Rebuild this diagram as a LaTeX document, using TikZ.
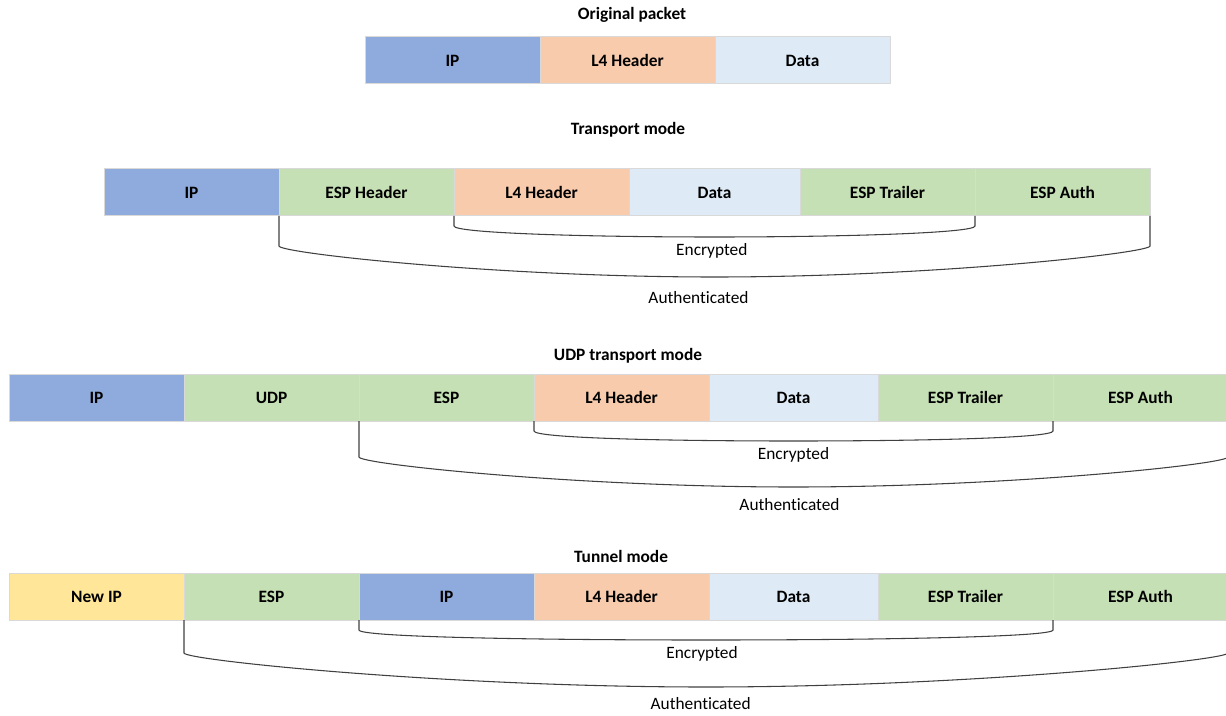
\documentclass[tikz,border=0pt]{standalone}
\usepackage{fontspec}
\setmainfont{Carlito}[Ligatures=NoCommon]
\usetikzlibrary{positioning, calc}
\definecolor{ipblue}{HTML}{8FAADC}
\definecolor{l4peach}{HTML}{F8CBAD}
\definecolor{datablue}{HTML}{DEEBF7}
\definecolor{espgreen}{HTML}{C5E0B4}
\definecolor{newipgold}{HTML}{FFE699}
\definecolor{cellline}{HTML}{D9D9D9}
\definecolor{braceline}{HTML}{404040}
\tikzset{
  field/.style={rectangle, draw=cellline, line width=0.75pt, minimum width=131.25pt,
                minimum height=35.25pt, inner sep=0pt, outer sep=0pt,
                font=\fontsize{13}{15}\selectfont\bfseries},
  fip/.style={field, fill=ipblue},
  fl4/.style={field, fill=l4peach},
  fdata/.style={field, fill=datablue},
  fesp/.style={field, fill=espgreen},
  fnew/.style={field, fill=newipgold},
  title/.style={font=\fontsize{13}{15}\selectfont\bfseries, inner sep=0pt},
  lbl/.style={font=\fontsize{13}{15}\selectfont, inner sep=0pt},
  brk/.style={draw=braceline, line width=0.8pt},
}
% span bracket under fields: [label opts]{left}{right}{drop}{sag}{gap}{text}
\newcommand{\espbrace}[7][]{%
  \coordinate (bl) at ($(#2)+(0,-#4)$);
  \coordinate (br) at ($(#3)+(0,-#4)$);
  \coordinate (bm) at ($(bl)!0.5!(br)+(0,-#5)$);
  \coordinate (bh1) at ($(bl)!0.5!(bm)$);
  \coordinate (bh2) at ($(br)!0.5!(bm)$);
  \draw[brk] (#2) -- (bl) .. controls +(0,-7) and (bh1 |- bm) .. (bm)
    .. controls (bh2 |- bm) and +(0,-7) .. (br) -- (#3);
  \node[lbl, #1] at ($(bm)+(0,-#6)$) {#7};
}

\begin{document}
\begin{tikzpicture}[x=0.75pt, y=0.75pt]
  \useasboundingbox (0,0) rectangle (1226,-716);
  % original packet
  \node[title] (otitle) at (632,-15) {Original packet};
  \node[fip, anchor=north west] (o-ip) at (365,-37) {IP};
  \node[fl4, right=0pt of o-ip] (o-l4) {L4 Header};
  \node[fdata, right=0pt of o-l4] (o-data) {Data};

  % transport mode
  \node[title] (ttitle) at (628,-130) {Transport mode};
  \node[fip, anchor=north west] (t-ip) at (104,-169) {IP};
  \node[fesp, right=0pt of t-ip] (t-esph) {ESP Header};
  \node[fl4, right=0pt of t-esph] (t-l4) {L4 Header};
  \node[fdata, minimum width=128.25pt, right=0pt of t-l4] (t-data) {Data};
  \node[fesp, right=0pt of t-data] (t-trl) {ESP Trailer};
  \node[fesp, right=0pt of t-trl] (t-auth) {ESP Auth};
  \espbrace[xshift=-2pt]{t-l4.south west}{t-trl.south east}{10}{11}{14}{Encrypted}
  \espbrace[xshift=-12pt]{t-esph.south west}{t-auth.south east}{30}{31}{21}{Authenticated}

  % UDP transport mode
  \node[title] (utitle) at (628,-356) {UDP transport mode};
  \node[fip, anchor=north west] (u-ip) at (9,-374) {IP};
  \node[fesp, right=0pt of u-ip] (u-udp) {UDP};
  \node[fesp, right=0pt of u-udp] (u-esp) {ESP};
  \node[fl4, right=0pt of u-esp] (u-l4) {L4 Header};
  \node[fdata, minimum width=126.75pt, right=0pt of u-l4] (u-data) {Data};
  \node[fesp, right=0pt of u-data] (u-trl) {ESP Trailer};
  \node[fesp, right=0pt of u-trl] (u-auth) {ESP Auth};
  \espbrace{u-l4.south west}{u-trl.south east}{10}{10}{14}{Encrypted}
  \espbrace[xshift=-3pt]{u-esp.south west}{u-auth.south east}{36}{30}{18}{Authenticated}

  % tunnel mode
  \node[title] (ntitle) at (621,-556) {Tunnel mode};
  \node[fnew, anchor=north west] (n-newip) at (9,-573) {New IP};
  \node[fesp, right=0pt of n-newip] (n-esp) {ESP};
  \node[fip, right=0pt of n-esp] (n-ip) {IP};
  \node[fl4, right=0pt of n-ip] (n-l4) {L4 Header};
  \node[fdata, minimum width=126.75pt, right=0pt of n-l4] (n-data) {Data};
  \node[fesp, right=0pt of n-data] (n-trl) {ESP Trailer};
  \node[fesp, right=0pt of n-trl] (n-auth) {ESP Auth};
  \espbrace[xshift=-3pt]{n-ip.south west}{n-trl.south east}{10}{10}{14}{Encrypted}
  \espbrace[xshift=-4pt]{n-esp.south west}{n-auth.south east}{33}{34}{17}{Authenticated}
\end{tikzpicture}
\end{document}
